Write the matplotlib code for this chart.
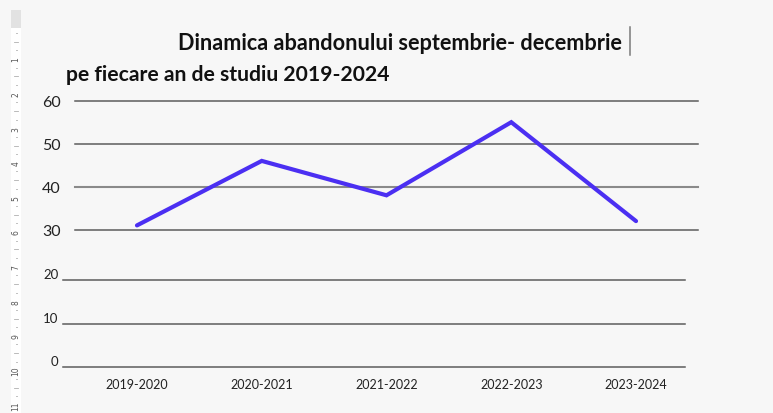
import matplotlib
matplotlib.use("Agg")
import matplotlib.pyplot as plt
from matplotlib.patches import Rectangle
from matplotlib.lines import Line2D

# ---- data ----
categories = ["2019-2020", "2020-2021", "2021-2022", "2022-2023", "2023-2024"]
values = [31, 46, 38, 55, 32]
upper_ticks = [30, 40, 50, 60]
lower_ticks = [0, 10, 20]
ruler_numbers = list(range(1, 12))
title_line1 = "Dinamica abandonului septembrie- decembrie"
title_line2 = "pe fiecare an de studiu 2019-2024"

W, H = 773, 414
BG = "#f7f7f7"
LINE_COLOR = "#4B2FF2"

fig = plt.figure(figsize=(W / 100, H / 100), dpi=100, facecolor=BG)


def px_rect(x0, y_top, x1, y_bot):
    return [x0 / W, (H - y_bot) / H, (x1 - x0) / W, (y_bot - y_top) / H]


# ---- Word ruler on the left ----
fig.patches.append(Rectangle((11 / W, (H - 29) / H), 9.7 / W, 18 / H,
                             transform=fig.transFigure, facecolor="#e2e2e2",
                             edgecolor="none"))
fig.patches.append(Rectangle((11 / W, 0), 9.7 / W, (H - 29) / H,
                             transform=fig.transFigure, facecolor="#ffffff",
                             edgecolor="none"))
step = 34.6
y0 = 60
for n in ruler_numbers:
    yc = y0 + (n - 1) * step
    fig.text(16 / W, (H - yc) / H, str(n), rotation=90, ha="center",
             va="center", fontsize=5.5, color="#555555", family="DejaVu Sans")
for k in range(-1, 11):
    base = y0 + k * step
    for q in (0.25, 0.5, 0.75):
        yy = base + q * step
        if yy < 32 or yy > 412:
            continue
        half = 1.8 if q == 0.5 else 0.5
        fig.lines.append(Line2D([(16 - half) / W, (16 + half) / W],
                                [(H - yy) / H, (H - yy) / H],
                                transform=fig.transFigure, color="#b0b0b0",
                                lw=0.6))

# ---- titles ----
fig.text(400 / W, (H - 44) / H, title_line1, ha="center", va="center",
         fontsize=15.6, fontweight="bold", family="Lato", color="#111111")
fig.text(66 / W, (H - 75) / H, title_line2, ha="left", va="center",
         fontsize=15.2, fontweight="bold", family="Lato", color="#111111")
# text cursor
fig.lines.append(Line2D([630 / W, 630 / W], [(H - 28) / H, (H - 56) / H],
                        transform=fig.transFigure, color="#7a7a7a", lw=1.1))

# ---- upper axes (30..60) ----
ax = fig.add_axes(px_rect(74.6, 101.7, 698.4, 230.7))
ax.set_facecolor("none")
ax.set_xlim(-0.5, 4.5)
ax.set_ylim(30, 60)
for v in upper_ticks:
    ax.axhline(v, color="#8a8a8a" if v == 40 else "#5c5c5c",
               lw=1.5 if v == 40 else 1.1, clip_on=False, zorder=1)
ax.plot(range(len(categories)), values, color=LINE_COLOR, lw=3.0,
        solid_capstyle="round", solid_joinstyle="miter", zorder=3,
        clip_on=False)
ax.set_yticks(upper_ticks)
ax.set_yticklabels([str(v) for v in upper_ticks], family="Lato", fontsize=11.5,
                   color="#222222")
ax.tick_params(axis="y", length=0, pad=10)
ax.set_xticks([])
for s in ax.spines.values():
    s.set_visible(False)

# ---- lower axes (0..20) ----
ax2 = fig.add_axes(px_rect(62.7, 281.3, 685, 368.3))
ax2.set_facecolor("none")
ax2.set_xlim(-0.596, 4.393)
ax2.set_ylim(0, 20)
for v in lower_ticks:
    ax2.axhline(v, color="#5c5c5c", lw=1.1, clip_on=False, zorder=1)
ax2.set_yticks(lower_ticks)
ax2.set_yticklabels([str(v) for v in lower_ticks], family="Lato", fontsize=9.5,
                    color="#222222")
for lab in ax2.get_yticklabels():
    lab.set_va("bottom")
ax2.tick_params(axis="y", length=0, pad=3)
ax2.set_xticks(range(len(categories)))
ax2.set_xticklabels(categories, family="Lato", fontsize=9, color="#222222")
ax2.tick_params(axis="x", length=0, pad=7.5)
for s in ax2.spines.values():
    s.set_visible(False)

fig.savefig("out.png", dpi=100, facecolor=BG)
